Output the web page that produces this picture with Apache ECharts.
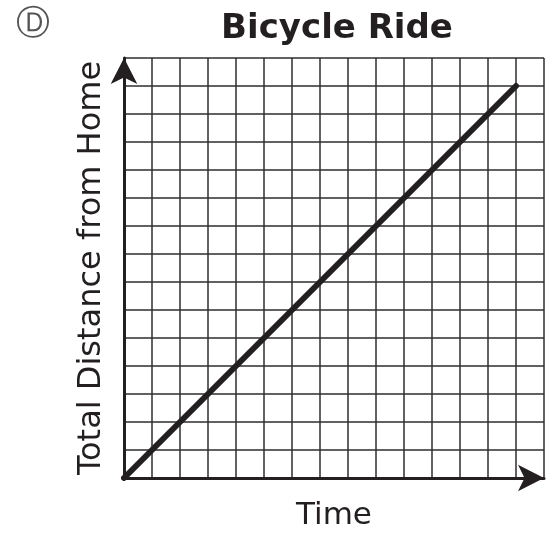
<!DOCTYPE html>
<html>
<head>
<meta charset="utf-8">
<script src="https://cdn.jsdelivr.net/npm/echarts@6/dist/echarts.min.js"></script>
<style>
  html, body { margin: 0; padding: 0; background: #fff; }
  #chart { width: 556px; height: 533px; }
</style>
</head>
<body>
<div id="chart"></div>
<script>
// chart data
const chartTitle = 'Bicycle Ride'
const optionLetter = 'Ⓓ'
const xName = 'Time'
const yName = 'Total Distance from Home'
const axisMax = 15
const rideTime = [0, 14]
const rideDistance = [0, 14]

const ink = '#231f20'
const points = rideTime.map((t, i) => [t, rideDistance[i]])

const chart = echarts.init(document.getElementById('chart'))
chart.setOption({
  animation: false,
  title: [{
    text: chartTitle,
    left: 332,
    top: 7,
    textAlign: 'center',
    textStyle: { fontFamily: 'DejaVu Sans', fontWeight: 'bold', fontSize: 34, color: ink }
  }, {
    text: optionLetter,
    left: 28,
    top: 3,
    textAlign: 'center',
    textStyle: { fontFamily: 'DejaVu Sans', fontWeight: 'normal', fontSize: 34, color: '#555' }
  }],
  grid: { left: 124, top: 58, width: 420, height: 420, outerBoundsMode: 'none' },
  xAxis: {
    type: 'value',
    min: 0,
    max: axisMax,
    interval: 1,
    name: xName,
    nameLocation: 'middle',
    nameGap: 22,
    nameTextStyle: { fontFamily: 'DejaVu Sans', fontSize: 31, color: ink },
    axisLine: {
      show: true,
      lineStyle: { color: ink, width: 3 },
      symbol: ['none', 'arrow'],
      symbolSize: [20, 26]
    },
    axisTick: { show: false },
    axisLabel: { show: false },
    splitLine: { show: true, lineStyle: { color: '#2e2e2e', width: 1.5 } }
  },
  yAxis: {
    type: 'value',
    min: 0,
    max: axisMax,
    interval: 1,
    name: yName,
    nameLocation: 'middle',
    nameRotate: 90,
    nameGap: 16,
    nameTextStyle: { fontFamily: 'DejaVu Sans', fontSize: 32, color: ink },
    axisLine: {
      show: true,
      lineStyle: { color: ink, width: 3 },
      symbol: ['none', 'arrow'],
      symbolSize: [20, 26]
    },
    axisTick: { show: false },
    axisLabel: { show: false },
    splitLine: { show: true, lineStyle: { color: '#2e2e2e', width: 1.5 } }
  },
  series: [{
    type: 'line',
    data: points,
    showSymbol: false,
    lineStyle: { color: ink, width: 6, cap: 'round' }
  }]
})
</script>
</body>
</html>
